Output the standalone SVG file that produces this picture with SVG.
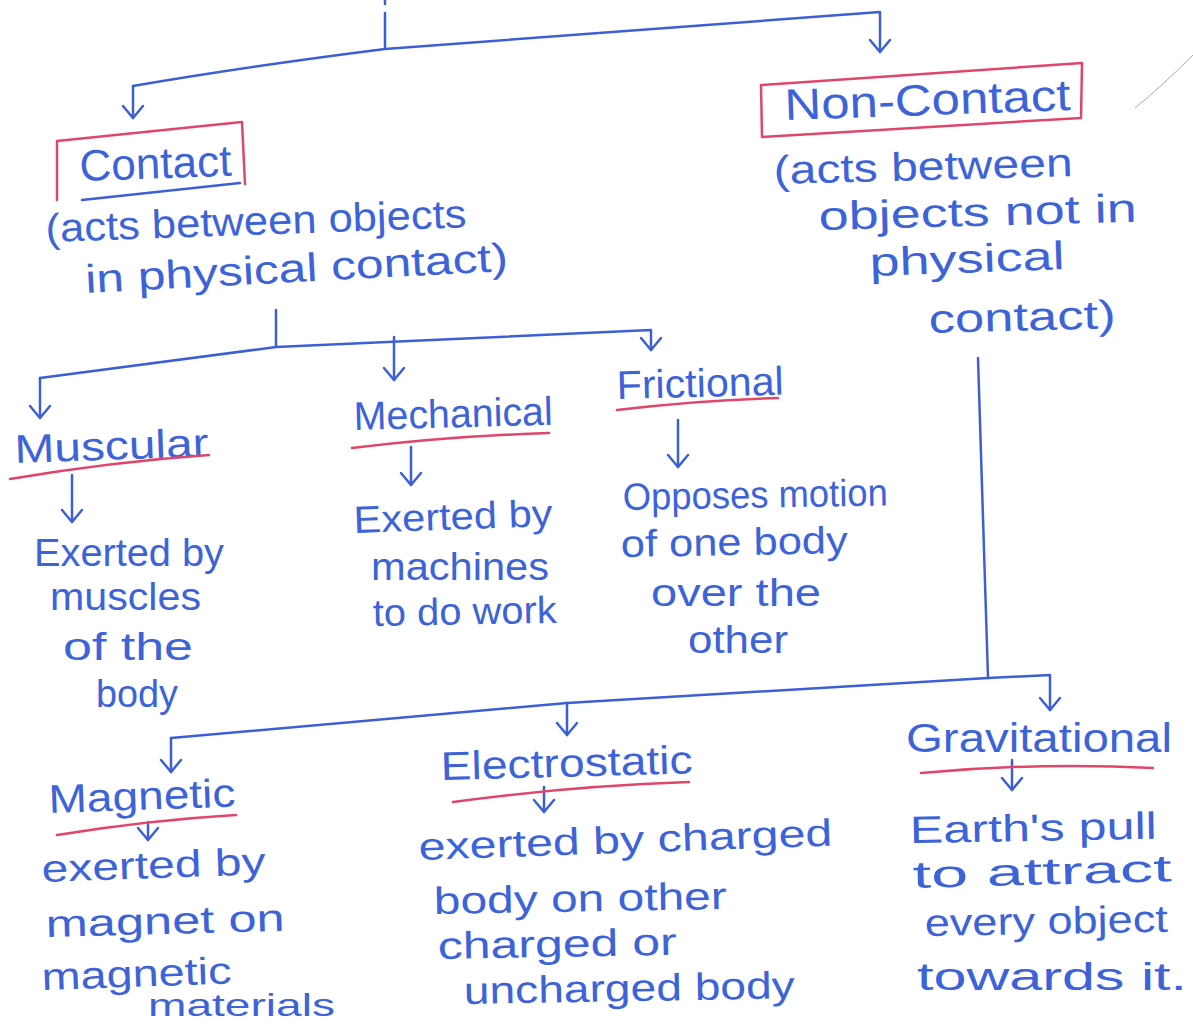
<svg xmlns="http://www.w3.org/2000/svg" width="1193" height="1025" viewBox="0 0 1193 1025">
<defs>
<style>
text{font-family:"Liberation Sans","DejaVu Sans",sans-serif;fill:#3d63d9;font-size:40px;}
.t{font-size:44px;}
.d{font-size:38px;}
.c{fill:none;stroke:#3d5fd6;stroke-width:2.5;stroke-linecap:round;stroke-linejoin:round;}
.r{fill:none;stroke:#e0466a;stroke-width:2.5;stroke-linecap:round;stroke-linejoin:round;}
.u{fill:none;stroke:#3d5fd6;stroke-width:2.5;stroke-linecap:round;}
</style>
<marker id="ah" markerWidth="30" markerHeight="30" refX="0" refY="0" viewBox="-15 -15 30 30" orient="auto" markerUnits="userSpaceOnUse" overflow="visible">
<path d="M-12,-10 L0,0 L-12,10" fill="none" stroke="#3d5fd6" stroke-width="2.5" stroke-linecap="round" stroke-linejoin="round"/>
</marker>
</defs>
<rect width="1193" height="1025" fill="#ffffff"/>
<path d="M1193,55 Q1160,88 1135,108" fill="none" stroke="#aaaaaa" stroke-width="1"/>

<g id="connectors">
<path class="c" d="M385,0 L385,4"/>
<path class="c" d="M385,13 L385,48"/>
<path class="c" d="M133,86 Q250,66 385,49 L880,12 L880,52" marker-end="url(#ah)"/>
<path class="c" d="M133,86 L133,118" marker-end="url(#ah)"/>
<path class="c" d="M276,310 L276,347"/>
<path class="c" d="M40,378 L276,347 L651,330 L651,350" marker-end="url(#ah)"/>
<path class="c" d="M40,378 L40,418" marker-end="url(#ah)"/>
<path class="c" d="M394,337 L394,380" marker-end="url(#ah)"/>
<path class="c" d="M72,475 L72,522" marker-end="url(#ah)"/>
<path class="c" d="M411,447 L411,485" marker-end="url(#ah)"/>
<path class="c" d="M678,420 L678,467" marker-end="url(#ah)"/>
<path class="c" d="M978,358 L988,678"/>
<path class="c" d="M171,738 L567,703 L988,678 L1050,675 L1050,710" marker-end="url(#ah)"/>
<path class="c" d="M171,738 L171,772" marker-end="url(#ah)"/>
<path class="c" d="M567,703 L567,735" marker-end="url(#ah)"/>
<path class="c" d="M148,822 L148,840" marker-end="url(#ah)"/>
<path class="c" d="M544,787 L544,812" marker-end="url(#ah)"/>
<path class="c" d="M1012,760 L1012,790" marker-end="url(#ah)"/>
</g>

<g id="contact">
<path class="r" d="M57,200 L57,141 L242,122 L245,184"/>
<path class="u" d="M82,200 L240,183"/>
<text class="t" x="80" y="181" textLength="152" lengthAdjust="spacingAndGlyphs" transform="rotate(-2 80 181)">Contact</text>
<text x="46" y="242" textLength="421" lengthAdjust="spacingAndGlyphs" transform="rotate(-2 46 242)">(acts between objects</text>
<text x="86" y="293" textLength="423" lengthAdjust="spacingAndGlyphs" transform="rotate(-3 86 293)">in physical contact)</text>
</g>

<g id="non-contact">
<path class="r" d="M761,85 L1082,63 L1081,118 L762,137 Z"/>
<text class="t" x="785" y="120" textLength="286" lengthAdjust="spacingAndGlyphs" transform="rotate(-2 785 120)">Non-Contact</text>
<text x="774" y="184" textLength="299" lengthAdjust="spacingAndGlyphs" transform="rotate(-1.5 774 184)">(acts between</text>
<text x="819" y="230" textLength="318" lengthAdjust="spacingAndGlyphs" transform="rotate(-1.5 819 230)">objects not in</text>
<text x="870" y="276" textLength="195" lengthAdjust="spacingAndGlyphs" transform="rotate(-2 870 276)">physical</text>
<text x="929" y="333" textLength="187" lengthAdjust="spacingAndGlyphs" transform="rotate(-1.5 929 333)">contact)</text>
</g>

<g id="muscular">
<text x="15" y="463" textLength="194" lengthAdjust="spacingAndGlyphs" transform="rotate(-2 15 463)">Muscular</text>
<path class="r" d="M10,479 Q110,462 209,455"/>
<text class="d" x="34" y="566" textLength="190" lengthAdjust="spacingAndGlyphs">Exerted by</text>
<text class="d" x="50" y="610" textLength="151" lengthAdjust="spacingAndGlyphs">muscles</text>
<text class="d" x="63" y="660" textLength="130" lengthAdjust="spacingAndGlyphs">of the</text>
<text class="d" x="96" y="707" textLength="82" lengthAdjust="spacingAndGlyphs">body</text>
</g>

<g id="mechanical">
<text x="354" y="430" textLength="199" lengthAdjust="spacingAndGlyphs" transform="rotate(-1.5 354 430)">Mechanical</text>
<path class="r" d="M352,448 Q450,436 549,433"/>
<text class="d" x="354" y="533" textLength="199" lengthAdjust="spacingAndGlyphs" transform="rotate(-2 354 533)">Exerted by</text>
<text class="d" x="371" y="580" textLength="178" lengthAdjust="spacingAndGlyphs">machines</text>
<text class="d" x="373" y="626" textLength="184" lengthAdjust="spacingAndGlyphs" transform="rotate(-1 373 626)">to do work</text>
</g>

<g id="frictional">
<text x="617" y="399" textLength="167" lengthAdjust="spacingAndGlyphs" transform="rotate(-1.5 617 399)">Frictional</text>
<path class="r" d="M617,410 Q700,400 778,398"/>
<text class="d" x="623" y="510" textLength="265" lengthAdjust="spacingAndGlyphs" transform="rotate(-1 623 510)">Opposes motion</text>
<text class="d" x="621" y="557" textLength="227" lengthAdjust="spacingAndGlyphs" transform="rotate(-1 621 557)">of one body</text>
<text class="d" x="651" y="606" textLength="170" lengthAdjust="spacingAndGlyphs">over the</text>
<text class="d" x="688" y="653" textLength="100" lengthAdjust="spacingAndGlyphs">other</text>
</g>

<g id="magnetic">
<text x="49" y="813" textLength="187" lengthAdjust="spacingAndGlyphs" transform="rotate(-2 49 813)">Magnetic</text>
<path class="r" d="M57,835 Q150,820 236,815"/>
<text class="d" x="42" y="882" textLength="224" lengthAdjust="spacingAndGlyphs" transform="rotate(-2 42 882)">exerted by</text>
<text class="d" x="46" y="937" textLength="239" lengthAdjust="spacingAndGlyphs" transform="rotate(-1.5 46 937)">magnet on</text>
<text class="d" x="42" y="990" textLength="190" lengthAdjust="spacingAndGlyphs" transform="rotate(-2 42 990)">magnetic</text>
<text x="148" y="1016" style="font-size:32px" textLength="187" lengthAdjust="spacingAndGlyphs">materials</text>
</g>

<g id="electrostatic">
<text x="441" y="780" textLength="252" lengthAdjust="spacingAndGlyphs" transform="rotate(-1.5 441 780)">Electrostatic</text>
<path class="r" d="M453,802 Q570,786 689,782"/>
<text class="d" x="419" y="860" textLength="414" lengthAdjust="spacingAndGlyphs" transform="rotate(-2 419 860)">exerted by charged</text>
<text class="d" x="434" y="914" textLength="293" lengthAdjust="spacingAndGlyphs" transform="rotate(-1 434 914)">body on other</text>
<text class="d" x="438" y="959" textLength="239" lengthAdjust="spacingAndGlyphs" transform="rotate(-1 438 959)">charged or</text>
<text class="d" x="464" y="1004" textLength="331" lengthAdjust="spacingAndGlyphs" transform="rotate(-1 464 1004)">uncharged body</text>
</g>

<g id="gravitational">
<text x="906" y="752" textLength="266" lengthAdjust="spacingAndGlyphs">Gravitational</text>
<path class="r" d="M921,773 Q1040,762 1153,768"/>
<text class="d" x="910" y="843" textLength="247" lengthAdjust="spacingAndGlyphs" transform="rotate(-1 910 843)">Earth's pull</text>
<text class="d" x="913" y="888" textLength="259" lengthAdjust="spacingAndGlyphs" transform="rotate(-1.5 913 888)">to attract</text>
<text class="d" x="925" y="936" textLength="243" lengthAdjust="spacingAndGlyphs" transform="rotate(-1 925 936)">every object</text>
<text class="d" x="917" y="990" textLength="270" lengthAdjust="spacingAndGlyphs">towards it.</text>
</g>
</svg>
